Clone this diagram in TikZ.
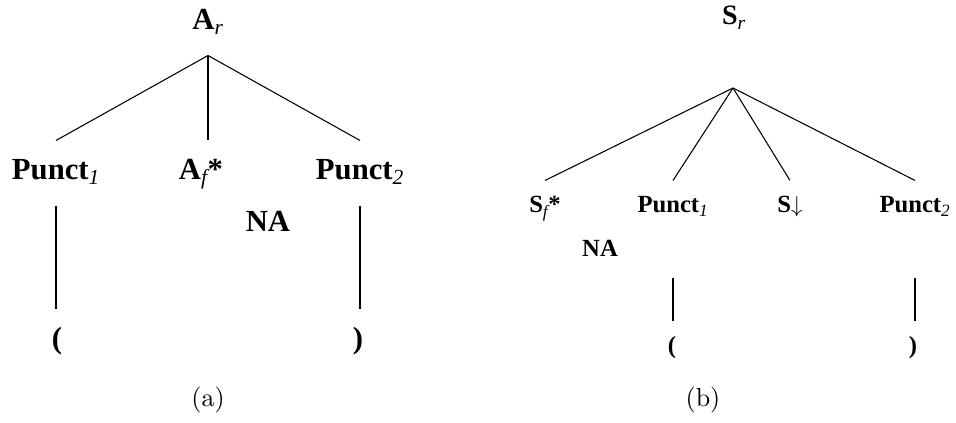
\documentclass[tikz,border=0pt]{standalone}
\usepackage{fontspec}
\newfontfamily\timesfont{Liberation Serif}
\newcommand\lsub[1]{\textsubscript{\mdseries\itshape #1}}

\begin{document}
\begin{tikzpicture}[x=0.75pt,y=-0.75pt,thick]
  \tikzstyle{lefttree}=[font=\timesfont\bfseries\fontsize{23}{27}\selectfont,anchor=base,inner xsep=0pt,inner ysep=13.75pt,text height=15.5pt,text depth=5pt]
  \tikzstyle{righttree}=[font=\timesfont\bfseries\fontsize{18.5}{22}\selectfont,anchor=base,inner xsep=0pt,inner ysep=11.5pt,text height=12.5pt,text depth=4pt]
  \tikzstyle{rightroot}=[righttree,font=\timesfont\bfseries\fontsize{21}{25}\selectfont]
  \tikzstyle{caption}=[font=\fontsize{10}{12}\selectfont,scale=1.95,anchor=base]

  \useasboundingbox (0,0) rectangle (956,423);

  % tree (a)
  \node[lefttree] (ar) at (208,30)  {A\lsub{r}};
  \node[lefttree] (p1) at (56,180)  {Punct\lsub{1}};
  \node[lefttree] (af) at (201,180) {A\lsub{f}*};
  \node[lefttree] (p2) at (360,180) {Punct\lsub{2}};
  \node[lefttree] (na) at (268,232) {NA};
  \node[lefttree] (lp) at (57,349)  {(};
  \node[lefttree] (rp) at (358,349) {)};
  \node[caption]  (capa) at (208,407) {(a)};

  \path
  (ar.south) edge (p1.north)
             edge (ar.south |- af.north)
             edge (p2.north)
  (p1.south) edge (p1.south |- lp.north)
  (p2.south) edge (p2.south |- rp.north);

  % tree (b)
  \node[rightroot] (sr) at (734,25)  {S\lsub{r}};
  \coordinate (fork) at (733,88);
  \node[righttree] (sf) at (545,213) {S\lsub{f}*};
  \node[righttree] (q1) at (673,213) {Punct\lsub{1}};
  \node[righttree] (sd) at (790,213) {S$\downarrow$};
  \node[righttree] (q2) at (915,213) {Punct\lsub{2}};
  \node[righttree] (nb) at (600,257) {NA};
  \node[righttree] (lq) at (672,354) {(};
  \node[righttree] (rq) at (913,354) {)};
  \node[caption]   (capb) at (703,407) {(b)};

  \path
  (fork) edge (sf.north)
         edge (q1.north)
         edge (sd.north)
         edge (q2.north)
  (q1.south) edge[shorten <=33pt] (q1.south |- lq.north)
  (q2.south) edge[shorten <=33pt] (q2.south |- rq.north);
\end{tikzpicture}
\end{document}
